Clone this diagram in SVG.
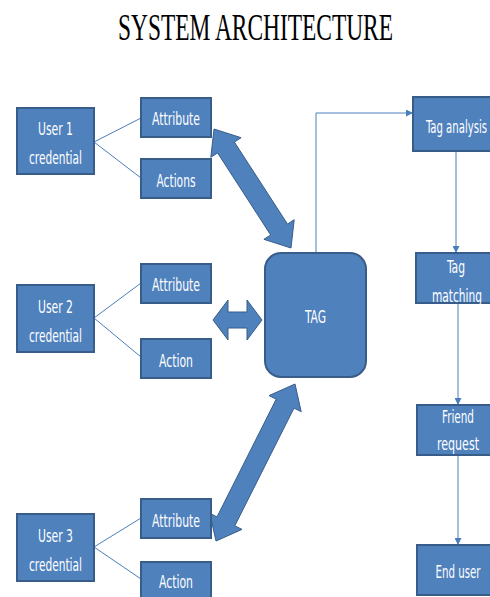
<svg xmlns="http://www.w3.org/2000/svg" width="490" height="597" viewBox="0 0 490 597">
<defs>
<style>
.box{fill:#4F81BD;stroke:#385D8A;stroke-width:2}
.big{fill:#4F81BD;stroke:#385D8A;stroke-width:1}
.t{font-family:"DejaVu Sans Condensed","Liberation Sans",sans-serif;font-size:17px;fill:#ffffff;text-anchor:middle}
.ln{fill:none;stroke:#4A7EBB;stroke-width:1}
.title{font-family:"Liberation Serif",serif;font-size:37px;fill:#000000}
</style>
<marker id="ah" viewBox="0 0 10 10" refX="10" refY="5" markerWidth="7" markerHeight="7" orient="auto" markerUnits="userSpaceOnUse">
<path d="M0,0 L10,5 L0,10 z" fill="#4A7EBB"/>
</marker>
</defs>
<rect width="490" height="597" fill="#ffffff"/>
<text class="title" x="118" y="40" textLength="275" lengthAdjust="spacingAndGlyphs">SYSTEM ARCHITECTURE</text>

<g id="connectors">
<line class="ln" x1="94" y1="142" x2="141" y2="118"/>
<line class="ln" x1="94" y1="142" x2="141" y2="178"/>
<line class="ln" x1="94" y1="318" x2="141" y2="283"/>
<line class="ln" x1="94" y1="318" x2="141" y2="357"/>
<line class="ln" x1="94" y1="547" x2="141" y2="518"/>
<line class="ln" x1="94" y1="547" x2="141" y2="579"/>
<polyline class="ln" points="316,253 316,113 413,113" marker-end="url(#ah)"/>
<line class="ln" x1="456" y1="151" x2="456" y2="253" marker-end="url(#ah)"/>
<line class="ln" x1="458" y1="303" x2="458" y2="405" marker-end="url(#ah)"/>
<line class="ln" x1="458" y1="455" x2="458" y2="545" marker-end="url(#ah)"/>
<polygon id="arrow1" class="big" points="214,129 210.8,157.3 217.6,152.9 270.7,235.0 263.9,239.3 291,248 294.2,219.7 287.5,224.1 234.4,142.1 241.1,137.7"/>
<polygon id="arrow2" class="big" points="213,320 228,300 228,312 247,312 247,300 262,320 247,340 247,328 228,328 228,340"/>
<polygon id="arrow3" class="big" points="216,541 242.0,529.4 234.8,525.8 294.0,408.1 301.2,411.7 295,384 269.0,395.6 276.2,399.2 217.0,516.9 209.8,513.3"/>
</g>

<g id="user1"><rect class="box" x="17" y="108" width="77" height="66"/><text class="t" x="55.5" y="135" textLength="35" lengthAdjust="spacingAndGlyphs">User 1</text><text class="t" x="55.5" y="164" textLength="53" lengthAdjust="spacingAndGlyphs">credential</text></g>
<g id="attribute1"><rect class="box" x="141" y="98" width="70" height="39"/><text class="t" x="176" y="125" textLength="48" lengthAdjust="spacingAndGlyphs">Attribute</text></g>
<g id="actions1"><rect class="box" x="141" y="159" width="70" height="39"/><text class="t" x="176" y="187" textLength="39" lengthAdjust="spacingAndGlyphs">Actions</text></g>

<g id="user2"><rect class="box" x="17" y="285" width="77" height="67"/><text class="t" x="55.5" y="313" textLength="35" lengthAdjust="spacingAndGlyphs">User 2</text><text class="t" x="55.5" y="342" textLength="53" lengthAdjust="spacingAndGlyphs">credential</text></g>
<g id="attribute2"><rect class="box" x="141" y="264" width="70" height="39"/><text class="t" x="176" y="291" textLength="48" lengthAdjust="spacingAndGlyphs">Attribute</text></g>
<g id="action2"><rect class="box" x="141" y="339" width="70" height="39"/><text class="t" x="176" y="367" textLength="34" lengthAdjust="spacingAndGlyphs">Action</text></g>

<g id="user3"><rect class="box" x="17" y="514" width="77" height="67"/><text class="t" x="55.5" y="542" textLength="35" lengthAdjust="spacingAndGlyphs">User 3</text><text class="t" x="55.5" y="571" textLength="53" lengthAdjust="spacingAndGlyphs">credential</text></g>
<g id="attribute3"><rect class="box" x="141" y="499" width="70" height="39"/><text class="t" x="176" y="527" textLength="48" lengthAdjust="spacingAndGlyphs">Attribute</text></g>
<g id="action3"><rect class="box" x="141" y="562" width="70" height="40"/><text class="t" x="176" y="588" textLength="34" lengthAdjust="spacingAndGlyphs">Action</text></g>

<g id="tag"><rect class="box" x="265" y="253" width="101" height="124" rx="16" ry="16"/><text class="t" x="315.5" y="323" textLength="21" lengthAdjust="spacingAndGlyphs">TAG</text></g>

<g id="taganalysis"><rect class="box" x="413" y="97" width="87" height="54"/><text class="t" x="456.5" y="133" textLength="61" lengthAdjust="spacingAndGlyphs">Tag analysis</text></g>
<g id="tagmatching"><rect class="box" x="416" y="253" width="84" height="50"/><text class="t" x="456" y="273" textLength="18" lengthAdjust="spacingAndGlyphs">Tag</text><text class="t" x="457" y="302" textLength="50" lengthAdjust="spacingAndGlyphs">matching</text></g>
<g id="friendrequest"><rect class="box" x="417" y="405" width="83" height="50"/><text class="t" x="458" y="423" textLength="32" lengthAdjust="spacingAndGlyphs">Friend</text><text class="t" x="458" y="450" textLength="42" lengthAdjust="spacingAndGlyphs">request</text></g>
<g id="enduser"><rect class="box" x="417" y="545" width="83" height="50"/><text class="t" x="458" y="578" textLength="45" lengthAdjust="spacingAndGlyphs">End user</text></g>
</svg>
